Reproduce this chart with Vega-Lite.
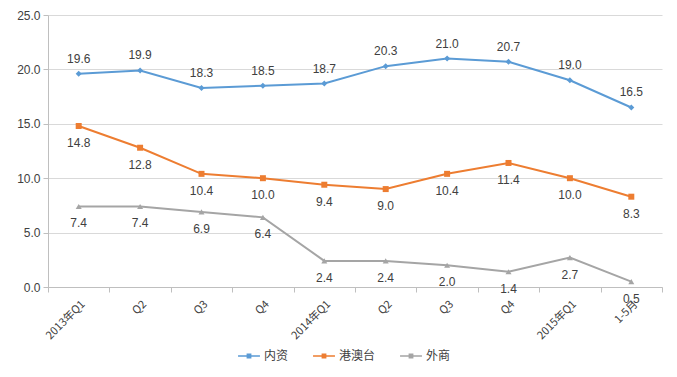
{
  "$schema": "https://vega.github.io/schema/vega-lite/v6.json",
  "autosize": {"type": "none"},
  "width": 614,
  "height": 272,
  "padding": {"left": 48, "top": 15, "right": 15, "bottom": 90},
  "background": "white",
  "config": {
    "font": "Noto Sans CJK SC",
    "view": {"stroke": null},
    "axis": {"labelFont": "Liberation Sans", "labelColor": "#404040", "labelFontSize": 12, "domainColor": "#BFBFBF", "tickColor": "#BFBFBF", "gridColor": "#D9D9D9", "title": null}
  },
  "data": {
    "values": [
      {"q": "2013年Q1", "s": "内资", "v": 19.6}, {"q": "Q2 ", "s": "内资", "v": 19.9}, {"q": "Q3 ", "s": "内资", "v": 18.3}, {"q": "Q4 ", "s": "内资", "v": 18.5},
      {"q": "2014年Q1", "s": "内资", "v": 18.7}, {"q": "Q2", "s": "内资", "v": 20.3}, {"q": "Q3", "s": "内资", "v": 21.0}, {"q": "Q4", "s": "内资", "v": 20.7},
      {"q": "2015年Q1", "s": "内资", "v": 19.0}, {"q": "1-5月", "s": "内资", "v": 16.5},
      {"q": "2013年Q1", "s": "港澳台", "v": 14.8}, {"q": "Q2 ", "s": "港澳台", "v": 12.8}, {"q": "Q3 ", "s": "港澳台", "v": 10.4}, {"q": "Q4 ", "s": "港澳台", "v": 10.0},
      {"q": "2014年Q1", "s": "港澳台", "v": 9.4}, {"q": "Q2", "s": "港澳台", "v": 9.0}, {"q": "Q3", "s": "港澳台", "v": 10.4}, {"q": "Q4", "s": "港澳台", "v": 11.4},
      {"q": "2015年Q1", "s": "港澳台", "v": 10.0}, {"q": "1-5月", "s": "港澳台", "v": 8.3},
      {"q": "2013年Q1", "s": "外商", "v": 7.4}, {"q": "Q2 ", "s": "外商", "v": 7.4}, {"q": "Q3 ", "s": "外商", "v": 6.9}, {"q": "Q4 ", "s": "外商", "v": 6.4},
      {"q": "2014年Q1", "s": "外商", "v": 2.4}, {"q": "Q2", "s": "外商", "v": 2.4}, {"q": "Q3", "s": "外商", "v": 2.0}, {"q": "Q4", "s": "外商", "v": 1.4},
      {"q": "2015年Q1", "s": "外商", "v": 2.7}, {"q": "1-5月", "s": "外商", "v": 0.5}
    ]
  },
  "encoding": {
    "x": {
      "field": "q", "type": "ordinal", "sort": null,
      "scale": {"paddingInner": 0, "paddingOuter": 0},
      "axis": {"labelAngle": -45, "grid": false, "labelFontSize": 11, "labelFont": "Noto Sans CJK SC", "tickBand": "extent", "tickSize": 5, "labelPadding": 6}
    },
    "y": {
      "field": "v", "type": "quantitative",
      "scale": {"domain": [0, 25]},
      "axis": {"values": [0, 5, 10, 15, 20, 25], "format": ".1f", "tickSize": 5, "labelPadding": 3}
    },
    "color": {
      "field": "s", "type": "nominal",
      "scale": {"domain": ["内资", "港澳台", "外商"], "range": ["#5B9BD5", "#ED7D31", "#A5A5A5"]},
      "legend": {"orient": "none", "direction": "horizontal", "legendX": 190, "legendY": 330, "title": null, "labelFontSize": 12, "labelColor": "#404040", "symbolType": "M-1,-0.07H1V0.07H-1Z M-0.22,-0.22H0.22V0.22H-0.22Z", "symbolSize": 480, "symbolStrokeWidth": 0, "columnPadding": 24, "labelOffset": 4}
    }
  },
  "layer": [
    {"mark": {"type": "line", "strokeWidth": 2}},
    {"transform": [{"filter": "datum.s === '内资'"}],
     "mark": {"type": "point", "filled": true, "opacity": 1, "shape": "diamond", "size": 36}},
    {"transform": [{"filter": "datum.s === '港澳台'"}],
     "mark": {"type": "point", "filled": true, "opacity": 1, "shape": "square", "size": 36}},
    {"transform": [{"filter": "datum.s === '外商'"}],
     "mark": {"type": "point", "filled": true, "opacity": 1, "shape": "triangle-up", "size": 36}},
    {"transform": [{"filter": "datum.s === '内资'"}],
     "mark": {"type": "text", "dy": -15, "fontSize": 12, "font": "Liberation Sans", "color": "#404040"},
     "encoding": {"text": {"field": "v", "format": ".1f"}, "color": {"value": "#404040"}}},
    {"transform": [{"filter": "datum.s !== '内资'"}],
     "mark": {"type": "text", "dy": 17, "fontSize": 12, "font": "Liberation Sans", "color": "#404040"},
     "encoding": {"text": {"field": "v", "format": ".1f"}, "color": {"value": "#404040"}}}
  ]
}
